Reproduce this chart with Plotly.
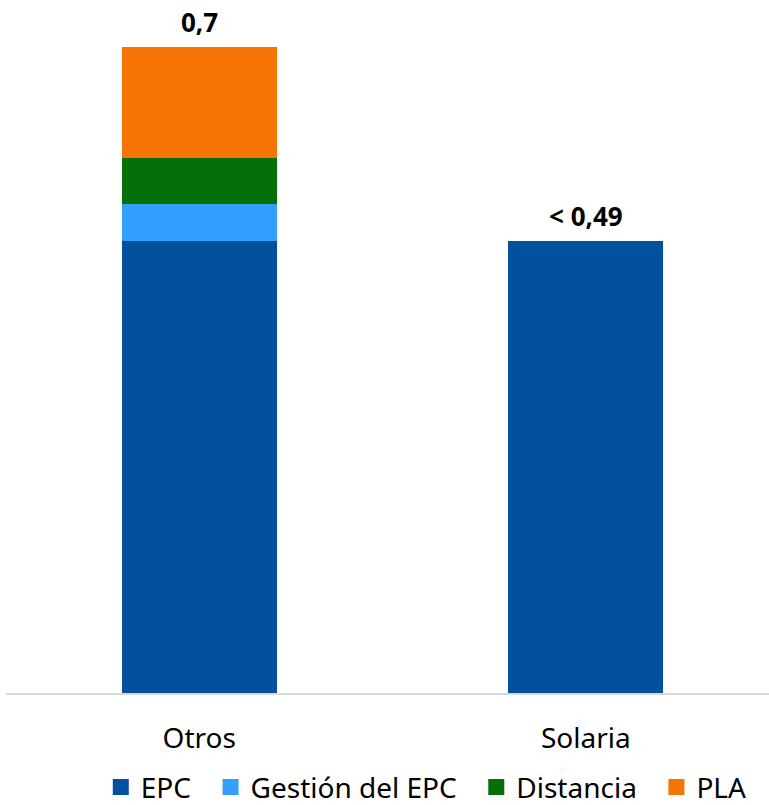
import plotly.graph_objects as go

categories = ["Otros", "Solaria"]
series_names = ["EPC", "Gestión del EPC", "Distancia", "PLA"]
epc = [0.49, 0.49]
gestion = [0.04, 0]
distancia = [0.05, 0]
pla = [0.12, 0]
total_labels = ["0,7", "< 0,49"]

colors = ["#02519C", "#33A0FF", "#037008", "#F57403"]
series_values = [epc, gestion, distancia, pla]

PAD = "\u00a0\u00a0"

fig = go.Figure()
for name, vals, col in zip(series_names, series_values, colors):
    fig.add_trace(go.Bar(
        x=categories, y=vals, name=name, marker_color=col,
        marker_line_width=0, width=0.4, showlegend=False,
    ))
for name, col in zip(series_names, colors):
    fig.add_trace(go.Scatter(
        x=[None], y=[None], mode="markers", name=name + PAD,
        marker=dict(symbol="square", size=18, color=col),
        showlegend=True,
    ))

totals = [sum(v[i] for v in series_values) for i in range(len(categories))]
for cat, tot, lab in zip(categories, totals, total_labels):
    fig.add_annotation(
        x=cat, y=tot, text=lab, showarrow=False, yanchor="bottom", yshift=5,
        font=dict(family="Noto Sans", size=26, color="#000000", weight="bold"),
    )

fig.update_layout(
    width=769, height=805,
    barmode="stack",
    margin=dict(l=6, r=0, t=0, b=112),
    paper_bgcolor="white", plot_bgcolor="white",
    font=dict(family="Noto Sans", size=28, color="#000000"),
    xaxis=dict(
        range=[-0.5, 1.474], showgrid=False, showline=True,
        linecolor="#d9d9d9", linewidth=2, ticks="", ticklabelstandoff=19,
        tickfont=dict(size=28), fixedrange=True,
    ),
    yaxis=dict(range=[0, 0.7509], visible=False, showgrid=False, fixedrange=True),
    legend=dict(
        orientation="h", x=0.56, xanchor="center", y=0.022, yanchor="middle",
        yref="container", font=dict(size=28), itemclick=False,
        traceorder="normal", tracegroupgap=0,
    ),
    showlegend=True,
)

fig.write_html(
    "out.html",
    config={"displayModeBar": False},
    post_script="document.body.style.margin='0';",
)
